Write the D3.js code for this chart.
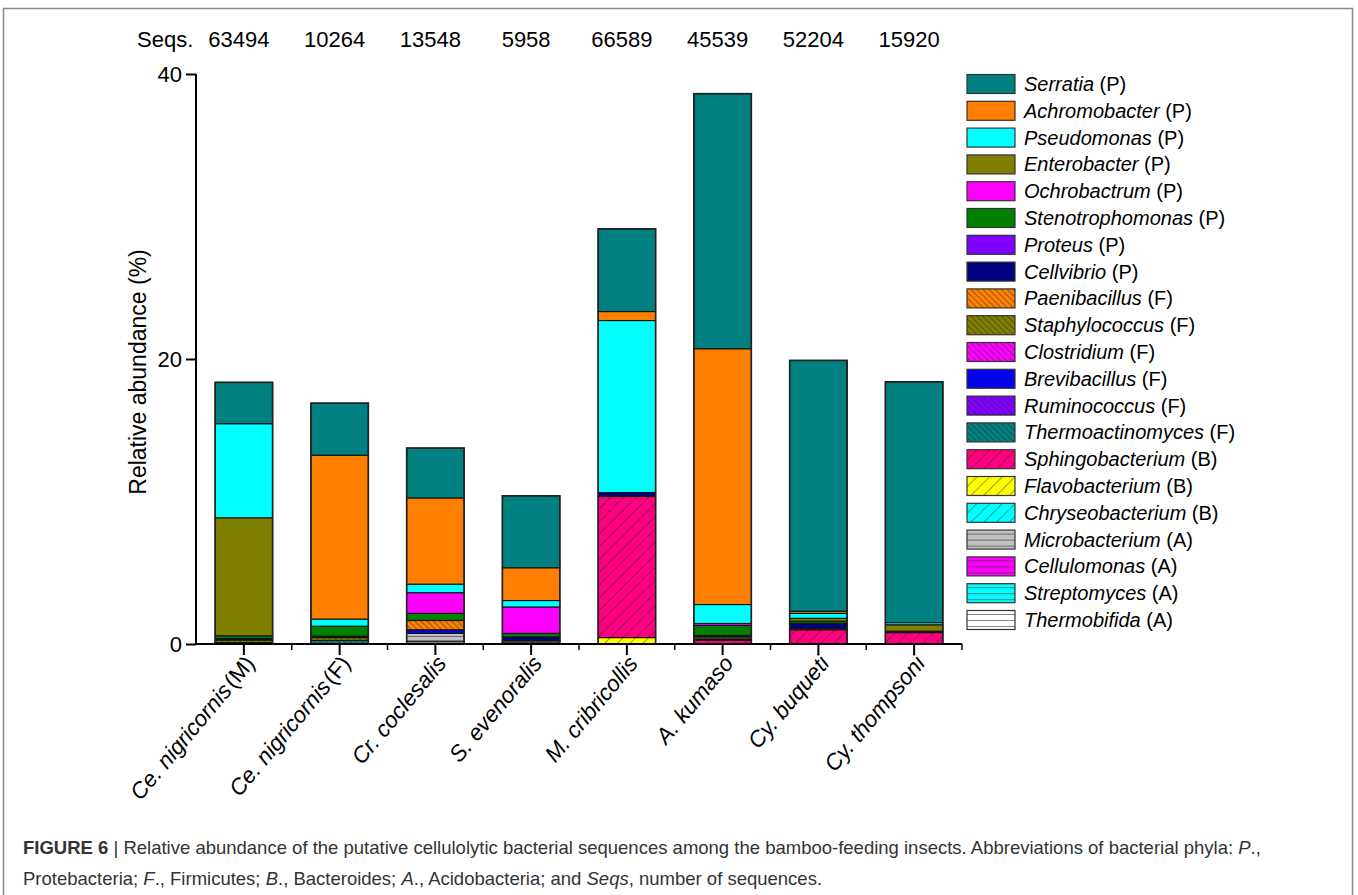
<!DOCTYPE html>
<html>
<head>
<meta charset="utf-8">
<script src="https://cdn.jsdelivr.net/npm/d3@7"></script>
<style>
  body { margin: 0; background: #fff; }
  svg { display: block; font-family: "Liberation Sans", Arial, sans-serif; }
</style>
</head>
<body>
<svg id="chart" width="1358" height="895"></svg>
<script>
// insects (x categories) and number of sequences
var insects = ["Ce. nigricornis|(M)", "Ce. nigricornis|(F)", "Cr. coclesalis", "S. evenoralis",
  "M. cribricollis", "A. kumaso", "Cy. buqueti", "Cy. thompsoni"];
var seqs = ["63494", "10264", "13548", "5958", "66589", "45539", "52204", "15920"];

// genera in legend order (top of stack first) and their phylum
var genera = ["Serratia", "Achromobacter", "Pseudomonas", "Enterobacter", "Ochrobactrum",
  "Stenotrophomonas", "Proteus", "Cellvibrio", "Paenibacillus", "Staphylococcus",
  "Clostridium", "Brevibacillus", "Ruminococcus", "Thermoactinomyces", "Sphingobacterium",
  "Flavobacterium", "Chryseobacterium", "Microbacterium", "Cellulomonas", "Streptomyces",
  "Thermobifida"];
var phyla = ["P","P","P","P","P","P","P","P","F","F","F","F","F","F","B","B","B","A","A","A","A"];
var fills = ["#008080","#ff8000","#00ffff","#808000","#ff00ff","#008000","#8000ff","#000080",
  "#ff8000","#808000","#ff00ff","#0000ff","#8000ff","#008080","#ff0080","#ffff00","#00ffff",
  "#c0c0c0","#ff00ff","#00ffff","#ffffff"];
var hatch = ["","","","","","","","","back","back","back","back","back","back",
  "fwd","fwd","fwd","horiz","horiz","horiz","horiz"];

// relative abundance (%) per genus, one value per insect
var serratia          = [2.9, 3.65, 3.5, 5.05, 5.8, 17.9, 17.6, 16.9];
var achromobacter     = [0, 11.5, 6.05, 2.3, 0.63, 17.95, 0.15, 0];
var pseudomonas       = [6.6, 0.5, 0.6, 0.45, 12.07, 1.33, 0.35, 0.15];
var enterobacter      = [8.28, 0, 0, 0, 0, 0, 0.2, 0.45];
var ochrobactrum      = [0, 0, 1.45, 1.85, 0, 0.14, 0, 0];
var stenotrophomonas  = [0.2, 0.7, 0.5, 0.25, 0, 0.7, 0.15, 0];
var proteus           = [0, 0, 0, 0, 0, 0, 0, 0];
var cellvibrio        = [0.1, 0.1, 0, 0.25, 0.28, 0.1, 0.35, 0.1];
var paenibacillus     = [0, 0, 0.65, 0, 0, 0, 0, 0];
var staphylococcus    = [0.18, 0.2, 0, 0, 0, 0.15, 0.1, 0];
var clostridium       = [0, 0, 0, 0, 0, 0, 0, 0];
var brevibacillus     = [0, 0, 0.25, 0, 0, 0.1, 0, 0];
var ruminococcus      = [0, 0, 0, 0, 0, 0, 0, 0];
var thermoactinomyces = [0.1, 0.25, 0, 0, 0, 0, 0, 0];
var sphingobacterium  = [0, 0, 0, 0, 9.9, 0.25, 1.0, 0.8];
var flavobacterium    = [0, 0, 0, 0, 0.45, 0, 0, 0];
var chryseobacterium  = [0, 0, 0, 0, 0, 0, 0, 0];
var microbacterium    = [0, 0, 0.55, 0.1, 0, 0, 0, 0];
var cellulomonas      = [0, 0, 0, 0, 0, 0, 0, 0];
var streptomyces      = [0, 0, 0, 0, 0, 0, 0, 0];
var thermobifida      = [0, 0, 0.2, 0.15, 0, 0, 0, 0];

var abundance = [serratia, achromobacter, pseudomonas, enterobacter, ochrobactrum,
  stenotrophomonas, proteus, cellvibrio, paenibacillus, staphylococcus, clostridium,
  brevibacillus, ruminococcus, thermoactinomyces, sphingobacterium, flavobacterium,
  chryseobacterium, microbacterium, cellulomonas, streptomyces, thermobifida];

var yTicks = [0, 20, 40];

var svg = d3.select("#chart");

// frame
svg.append("rect").attr("x", 3.5).attr("y", 8.5).attr("width", 1349).attr("height", 920)
  .attr("fill", "none").attr("stroke", "#8a8a8a").attr("stroke-width", 1.5);

// patterns
var defs = svg.append("defs");
genera.forEach(function(g, i){
  if (!hatch[i]) return;
  var p = defs.append("pattern").attr("id", "pat" + i)
    .attr("patternUnits", "userSpaceOnUse");
  var s;
  if (hatch[i] === "horiz") {
    s = 6;
    p.attr("width", 10).attr("height", s);
    p.append("rect").attr("width", 10).attr("height", s).attr("fill", fills[i]);
    p.append("line").attr("x1", 0).attr("x2", 10).attr("y1", 0).attr("y2", 0)
      .attr("stroke", "#333").attr("stroke-width", 1.2);
  } else {
    s = hatch[i] === "back" ? 4.3 : 9;
    p.attr("width", s).attr("height", 10)
      .attr("patternTransform", hatch[i] === "back" ? "rotate(-45)" : "rotate(45)");
    p.append("rect").attr("width", s).attr("height", 10).attr("fill", fills[i]);
    p.append("line").attr("x1", 0).attr("x2", 0).attr("y1", 0).attr("y2", 10)
      .attr("stroke", "#222").attr("stroke-width", 0.9);
  }
});
function fillOf(i){ return hatch[i] ? "url(#pat" + i + ")" : fills[i]; }

var x = d3.scaleBand().domain(insects).range([196, 962]).paddingInner(0.4).paddingOuter(0.2);
var y = d3.scaleLinear().domain([0, 40]).range([644, 74]);

// stacked table
var table = insects.map(function(ins, j){
  var row = { insect: ins };
  genera.forEach(function(g, i){ row[g] = abundance[i][j]; });
  return row;
});
var stackKeys = genera.slice().reverse();
var series = d3.stack().keys(stackKeys)(table);

var bars = svg.append("g");
series.forEach(function(s){
  var gi = genera.indexOf(s.key);
  bars.selectAll(null).data(s.filter(function(d){ return d[1] - d[0] > 0; }))
    .enter().append("rect")
    .attr("x", function(d){ return x(d.data.insect); })
    .attr("width", x.bandwidth())
    .attr("y", function(d){ return y(d[1]); })
    .attr("height", function(d){ return y(d[0]) - y(d[1]); })
    .attr("fill", fillOf(gi))
    .attr("stroke", "#111").attr("stroke-width", 1.1);
});
// outline of each bar
bars.selectAll(".outline").data(table).enter().append("rect")
  .attr("x", function(d){ return x(d.insect); })
  .attr("width", x.bandwidth())
  .attr("y", function(d){ return y(d3.sum(genera, function(g){ return d[g]; })); })
  .attr("height", function(d){ return y(0) - y(d3.sum(genera, function(g){ return d[g]; })); })
  .attr("fill", "none").attr("stroke", "#222").attr("stroke-width", 1.6);

// y axis
var yAxis = svg.append("g").attr("transform", "translate(196,0)")
  .call(d3.axisLeft(y).tickValues(yTicks).tickSize(10).tickPadding(4).tickFormat(d3.format("d")));
yAxis.select(".domain").attr("d", "M0," + y(40) + "V" + y(0)).attr("stroke-width", 2);
yAxis.selectAll(".tick line").attr("stroke-width", 2);
yAxis.selectAll("text").attr("font-size", 22).attr("fill", "#000")
  .attr("font-family", "'Liberation Sans', Arial, sans-serif");

// x axis
var gx = svg.append("g");
gx.append("line").attr("x1", 195).attr("x2", 962).attr("y1", 644).attr("y2", 644)
  .attr("stroke", "#000").attr("stroke-width", 2);
gx.selectAll(".maj").data(insects).enter().append("line")
  .attr("x1", function(d){ return x(d) + x.bandwidth() / 2; })
  .attr("x2", function(d){ return x(d) + x.bandwidth() / 2; })
  .attr("y1", 644).attr("y2", 655).attr("stroke", "#000").attr("stroke-width", 2);
gx.selectAll(".min").data(insects.slice(1).concat(["end"])).enter().append("line")
  .attr("x1", function(d, i){ return 196 + x.step() * (i + 1); })
  .attr("x2", function(d, i){ return 196 + x.step() * (i + 1); })
  .attr("y1", 644).attr("y2", 650).attr("stroke", "#000").attr("stroke-width", 1.5);

gx.selectAll(".xl").data(insects).enter().append("text")
  .attr("transform", function(d){
    return "translate(" + (x(d) + x.bandwidth() / 2 + 12) + ",664) rotate(-50)";
  })
  .attr("text-anchor", "end").attr("font-size", 22.5)
  .each(function(d){
    var parts = d.split("|");
    d3.select(this).append("tspan").attr("font-style", "italic").text(parts[0]);
    if (parts[1]) d3.select(this).append("tspan").attr("dx", 2).text(parts[1]);
  });

// y label
svg.append("text").attr("transform", "translate(146,372) rotate(-90)")
  .attr("text-anchor", "middle").attr("font-size", 23).text("Relative abundance (%)");

// sequence counts
svg.append("text").attr("x", 137).attr("y", 47).attr("font-size", 22).text("Seqs.");
svg.selectAll(".seq").data(seqs).enter().append("text")
  .attr("x", function(d, i){ return x(insects[i]) + x.bandwidth() / 2 - 5; })
  .attr("y", 47).attr("text-anchor", "middle").attr("font-size", 22)
  .text(function(d){ return d; });

// legend
var legend = svg.append("g");
var row = legend.selectAll("g").data(genera).enter().append("g")
  .attr("transform", function(d, i){ return "translate(967," + (84 + i * 26.8) + ")"; });
row.append("rect").attr("x", 0).attr("y", -9.5).attr("width", 48).attr("height", 19)
  .attr("fill", function(d, i){ return fillOf(i); })
  .attr("stroke", "#333").attr("stroke-width", 1.2);
row.append("text").attr("x", 57).attr("y", 7).attr("font-size", 20)
  .each(function(d, i){
    d3.select(this).append("tspan").attr("font-style", "italic").text(d);
    d3.select(this).append("tspan").text(" (" + phyla[i] + ")");
  });

// caption
var cap = svg.append("g").attr("font-size", 18.5).attr("fill", "#333");
var l1 = cap.append("text").attr("x", 23).attr("y", 854);
l1.append("tspan").attr("font-weight", "bold").text("FIGURE 6");
l1.append("tspan").text(" | Relative abundance of the putative cellulolytic bacterial sequences among the bamboo-feeding insects. Abbreviations of bacterial phyla: ");
l1.append("tspan").attr("font-style", "italic").text("P");
l1.append("tspan").text(".,");
var l2 = cap.append("text").attr("x", 23).attr("y", 885);
l2.append("tspan").text("Protebacteria; ");
l2.append("tspan").attr("font-style", "italic").text("F");
l2.append("tspan").text("., Firmicutes; ");
l2.append("tspan").attr("font-style", "italic").text("B");
l2.append("tspan").text("., Bacteroides; ");
l2.append("tspan").attr("font-style", "italic").text("A");
l2.append("tspan").text("., Acidobacteria; and ");
l2.append("tspan").attr("font-style", "italic").text("Seqs");
l2.append("tspan").text(", number of sequences.");
</script>
</body>
</html>
